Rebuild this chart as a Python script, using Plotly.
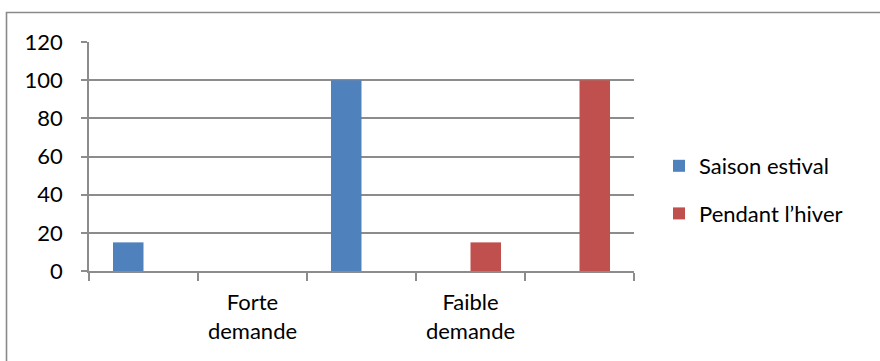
import plotly.graph_objects as go

# Category slots along the x axis (only two carry a label)
slots = [0, 1, 2, 3, 4]
slot_labels = ["", "Forte<br>demande", "", "Faible<br>demande", ""]

# Series values per slot
saison_estival = [15, 0, 100, 0, 0]
pendant_hiver = [0, 0, 0, 15, 100]

y_ticks = [0, 20, 40, 60, 80, 100, 120]

BLUE = "#4F81BD"
RED = "#C0504D"
GRID = "#8C8C8C"
FONT = "Lato"
FS = 22

W, H = 880, 361
ML, MR, MT, MB = 89, 246, 42, 90
PW, PH = W - ML - MR, H - MT - MB

fig = go.Figure()
fig.add_trace(go.Bar(x=slots, y=saison_estival, name="Saison estival",
                     marker=dict(color=BLUE, line=dict(width=0)),
                     legendgroup="a"))
fig.add_trace(go.Bar(x=slots, y=pendant_hiver, name="Pendant l\u2019hiver",
                     marker=dict(color=RED, line=dict(width=0)),
                     legendgroup="b"))

# Outer chart frame (left and top edges visible, the rest runs off the page)
fx0 = (6.5 - ML) / PW
fy1 = (H - MB - 12.5) / PH
fig.add_shape(type="rect", xref="paper", yref="paper",
              x0=fx0, x1=2.0, y0=-2.0, y1=fy1,
              line=dict(color="#8A8A8A", width=1.6), layer="below")

legend_x = (659 - ML) / PW
legend_y = (H - MB - 190) / PH

fig.update_layout(
    width=W, height=H,
    margin=dict(l=ML, r=MR, t=MT, b=MB),
    paper_bgcolor="white", plot_bgcolor="white",
    barmode="group", bargap=0.44, bargroupgap=0,
    font=dict(family=FONT, size=FS, color="#000000"),
    showlegend=True,
    legend=dict(x=legend_x, xanchor="left", xref="paper",
                y=legend_y, yanchor="middle",
                traceorder="grouped", tracegroupgap=16,
                itemwidth=30, font=dict(size=FS, family=FONT),
                bgcolor="rgba(0,0,0,0)"),
    xaxis=dict(range=[-0.5, 4.5], tickmode="array", tickvals=slots,
               ticktext=slot_labels, ticks="", showgrid=False,
               showline=True, linecolor=GRID, linewidth=1.5,
               zeroline=False, ticklabelstandoff=11,
               minor=dict(tickmode="linear", tick0=-0.5, dtick=1,
                          ticks="outside", ticklen=8, tickcolor=GRID,
                          tickwidth=1.5, showgrid=False),
               tickfont=dict(size=FS, family=FONT)),
    yaxis=dict(range=[0, 120], tickmode="array", tickvals=y_ticks,
               ticks="outside", ticklen=6, tickcolor=GRID, tickwidth=1.5,
               showgrid=True, gridcolor=GRID, gridwidth=1.5,
               showline=True, linecolor=GRID, linewidth=1.5,
               zeroline=False, ticklabelstandoff=14,
               tickfont=dict(size=FS, family=FONT)),
)

fig.write_html("out.html")
